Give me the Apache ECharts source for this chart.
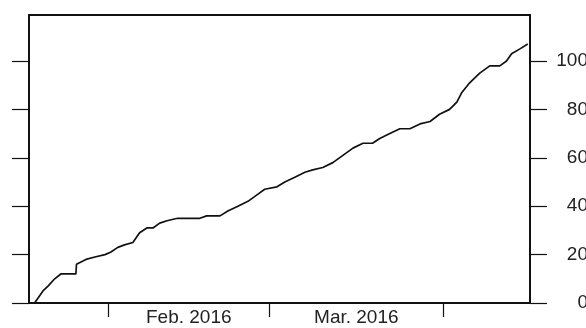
<!DOCTYPE html>
<html>
<head>
<meta charset="utf-8">
<style>
  html, body { margin: 0; padding: 0; background: #fff; }
  #chart { width: 586px; height: 328px; }
</style>
<script src="https://cdn.jsdelivr.net/npm/echarts@6/dist/echarts.min.js"></script>
</head>
<body>
<div id="chart"></div>
<script>
// Days since 2016-02-01
var dayOffsets = [-13.1, -11.6, -10.7, -9.5, -8.4, -5.7, -5.6, -3.9, -2.3, -0.5, 0.5, 1.8, 3.0, 4.5, 5.7, 7.0, 8.1, 9.3, 10.6, 12.5, 14.1, 16.5, 17.7, 20.1, 21.5, 23.3, 25.1, 26.9, 28.1, 30.3, 31.7, 33.5, 35.3, 36.7, 38.5, 40.3, 42.1, 43.9, 45.7, 47.4, 48.7, 50.5, 52.3, 54.1, 55.9, 57.7, 59.4, 61.2, 62.5, 63.4, 64.8, 66.6, 68.4, 70.2, 71.4, 72.3, 73.8, 75.2];
// Cumulative counts
var counts = [0, 5, 7, 10, 12, 12, 16, 18, 19, 20, 21, 23, 24, 25, 29, 31, 31, 33, 34, 35, 35, 35, 36, 36, 38, 40, 42, 45, 47, 48, 50, 52, 54, 55, 56, 58, 61, 64, 66, 66, 68, 70, 72, 72, 74, 75, 78, 80, 83, 87, 91, 95, 98, 98, 100, 103, 105, 107];
// Month boundaries (days since 2016-02-01) and month labels
var monthStarts = [0, 29, 60];
var monthLabels = ['Feb. 2016', 'Mar. 2016'];
var monthLabelPos = [14.5, 44.5];
var yTicks = [0, 20, 40, 60, 80, 100];

var data = dayOffsets.map(function (d, i) { return [d, counts[i]]; });

var chart = echarts.init(document.getElementById('chart'), null, { renderer: 'canvas' });
var FONT = 'Liberation Sans, Arial, sans-serif';
chart.setOption({
  animation: false,
  backgroundColor: '#fff',
  grid: {
    left: 29, right: 56, top: 15, bottom: 25,
    outerBoundsMode: 'none',
    containLabel: false,
    show: true, borderColor: '#111', borderWidth: 2, backgroundColor: 'transparent'
  },
  xAxis: {
    type: 'value',
    min: -14.1, max: 75.6,
    axisLine: { show: false, onZero: false },
    splitLine: { show: false },
    axisTick: {
      show: true, inside: false, length: 14,
      customValues: monthStarts,
      lineStyle: { color: '#111', width: 1.2 }
    },
    axisLabel: {
      show: true,
      customValues: monthLabelPos,
      margin: 5,
      fontFamily: FONT, fontSize: 19, color: '#222',
      formatter: function (v) {
        var i = monthLabelPos.indexOf(v);
        return i >= 0 ? monthLabels[i] : '';
      }
    }
  },
  yAxis: [
    {
      type: 'value', position: 'left',
      min: 0, max: 119,
      axisLine: { show: false, onZero: false },
      splitLine: { show: false },
      axisTick: {
        show: true, length: 17, customValues: yTicks,
        lineStyle: { color: '#111', width: 1.2 }
      },
      axisLabel: { show: false }
    },
    {
      type: 'value', position: 'right',
      min: 0, max: 119,
      axisLine: { show: false, onZero: false },
      splitLine: { show: false },
      axisTick: {
        show: true, length: 17, customValues: yTicks,
        lineStyle: { color: '#111', width: 1.2 }
      },
      axisLabel: {
        show: true, customValues: yTicks,
        align: 'right', margin: 58,
        fontFamily: FONT, fontSize: 19, color: '#222'
      }
    }
  ],
  series: [{
    type: 'line',
    data: data,
    showSymbol: false,
    lineStyle: { color: '#111', width: 1.7 },
    xAxisIndex: 0, yAxisIndex: 0
  }]
});
</script>
</body>
</html>
